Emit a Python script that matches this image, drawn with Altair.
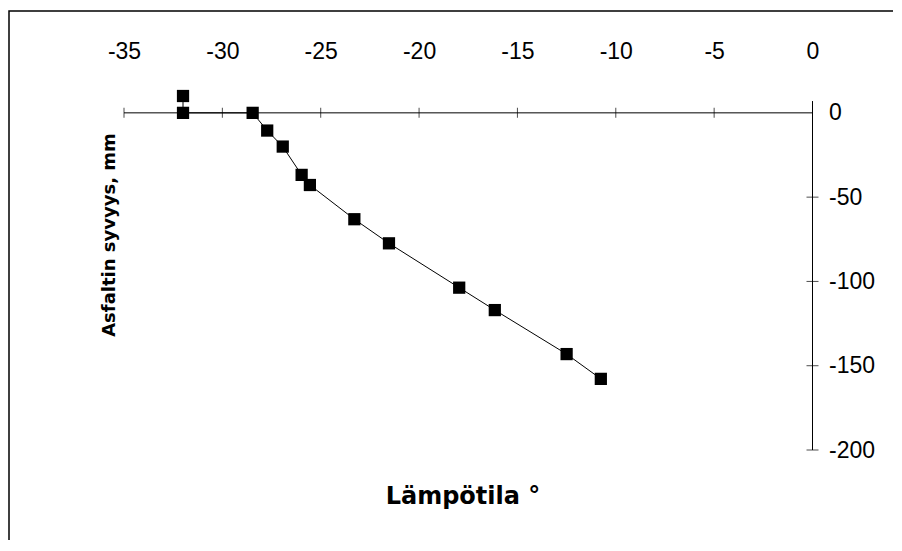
import altair as alt
import pandas as pd

# Data
temps = [-32.0, -32.0, -28.46, -27.72, -26.93, -25.97, -25.55, -23.29, -21.53, -17.96, -16.15, -12.5, -10.76]
depths = [10.0, 0.0, 0.0, -10.5, -20.0, -36.8, -42.8, -63.1, -77.4, -103.7, -117.0, -143.1, -157.8]

x_ticks = [-35, -30, -25, -20, -15, -10, -5, 0]
y_ticks = [0, -50, -100, -150, -200]

x_title = "Lämpötila °"
y_title = "Asfaltin syvyys, mm"

df = pd.DataFrame({"temp": temps, "depth": depths})
xt = pd.DataFrame({"t": x_ticks[:-1], "z": [0] * (len(x_ticks) - 1)})
yt = pd.DataFrame({"d": y_ticks[1:], "z": [0] * (len(y_ticks) - 1)})
xaxis_line = pd.DataFrame({"x": [-35], "x2": [0], "y": [0]})
yaxis_line = pd.DataFrame({"x": [0], "y": [-200], "y2": [7]})

FONT = "Liberation Sans"
TFONT = "DejaVu Sans"

xscale = alt.Scale(domain=[-35, 0], nice=False, zero=False)
yscale = alt.Scale(domain=[-200, 10], nice=False, zero=False)

xaxis = alt.Axis(orient="top", values=x_ticks, domain=False, ticks=False, tickSize=0,
                 grid=False, labelPadding=33, labelFontSize=23, labelFont=FONT,
                 labelFlush=False, labelOverlap=False,
                 labelColor="black", labelExpr="'' + datum.value", title=None)
yaxis = alt.Axis(orient="right", values=y_ticks, domain=False, ticks=False, tickSize=0,
                 grid=False, labelPadding=16, labelFontSize=23, labelFont=FONT,
                 labelFlush=False, labelOverlap=False,
                 labelColor="black", labelAlign="left", labelBaseline="middle",
                 labelExpr="'' + datum.value", title=None)


def X(field):
    return alt.X(field, type="quantitative", scale=xscale, axis=xaxis)


def Y(field):
    return alt.Y(field, type="quantitative", scale=yscale, axis=yaxis)


hline = alt.Chart(xaxis_line).mark_rule(color="black", strokeWidth=1).encode(
    x=X("x"), x2="x2", y=Y("y"))
vline = alt.Chart(yaxis_line).mark_rule(color="black", strokeWidth=1).encode(
    x=X("x"), y=Y("y"), y2="y2")
xtick_marks = alt.Chart(xt).mark_tick(orient="vertical", color="black", thickness=1, size=10).encode(
    x=X("t"), y=Y("z"))
ytick_marks = alt.Chart(yt).mark_tick(orient="horizontal", color="black", thickness=1, size=12).encode(
    x=X("z"), y=Y("d"))

line = alt.Chart(df).mark_line(color="black", strokeWidth=1).encode(
    x=X("temp"), y=Y("depth"), order=alt.Order("depth:Q", sort="descending"))
points = alt.Chart(df).mark_point(shape="square", filled=True, color="black", size=150, opacity=1).encode(
    x=X("temp"), y=Y("depth"))

ytitle = alt.Chart(pd.DataFrame({"a": [0]})).mark_text(
    text=y_title, angle=270, font=TFONT, fontSize=18, fontWeight="bold", color="black",
    align="center", baseline="middle").encode(x=alt.value(-14), y=alt.value(139))
xtitle = alt.Chart(pd.DataFrame({"a": [0]})).mark_text(
    text=x_title, font=TFONT, fontSize=24, fontWeight="bold", color="black",
    align="center", baseline="middle").encode(x=alt.value(339), y=alt.value(401))

frame = alt.Chart(pd.DataFrame({"a": [0]})).mark_rect(
    fill="white", fillOpacity=0, stroke="black", strokeWidth=1.5).encode(
    x=alt.value(-115), x2=alt.value(900), y=alt.value(-85), y2=alt.value(700))

chart = alt.layer(
    frame, hline, vline, xtick_marks, ytick_marks, line, points, ytitle, xtitle
).properties(
    width=688.5, height=354,
    autosize=alt.AutoSizeParams(type="none"),
    padding={"left": 116, "top": 88, "right": 80, "bottom": 90},
    background="white",
).configure_view(stroke=None)

chart.save("out.html", embed_options={"renderer": "svg", "actions": False})
